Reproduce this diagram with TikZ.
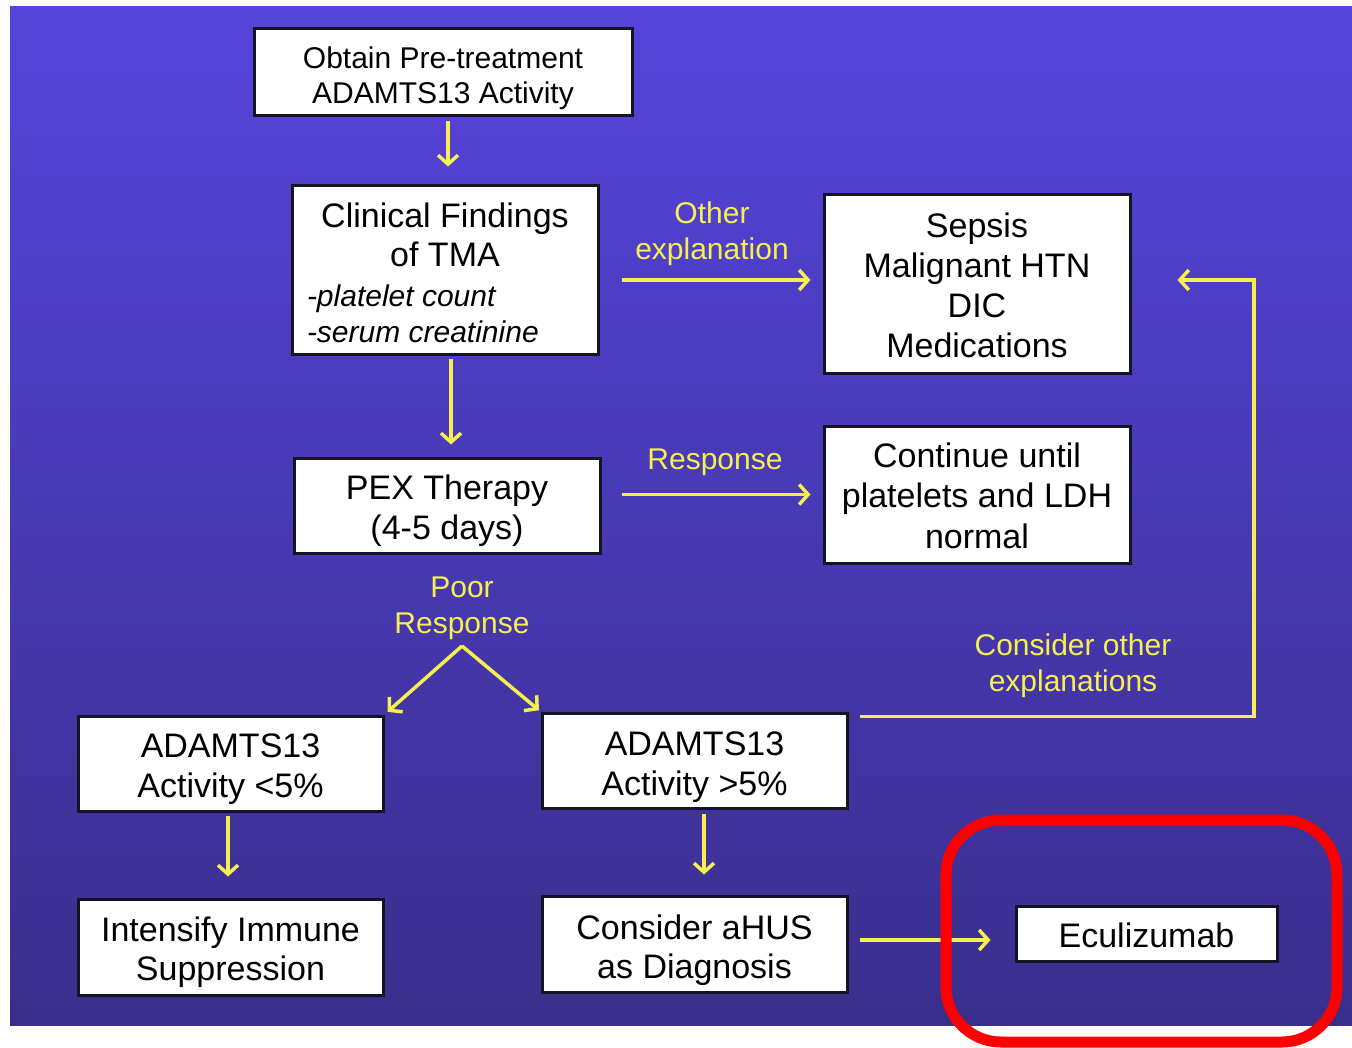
\documentclass[tikz,border=0pt]{standalone}
\usepackage{fontspec}
\setmainfont{Liberation Sans}
\usetikzlibrary{arrows.meta}
\definecolor{bgtop}{RGB}{86,68,220}
\definecolor{bgbot}{RGB}{58,46,140}
\definecolor{ylw}{RGB}{245,240,80}
\definecolor{bordr}{RGB}{20,20,35}
\newcommand{\dn}[2]{\raisebox{-#1pt}[\height][\depth]{\begin{tabular}{@{}c@{}}#2\end{tabular}}}
\begin{document}
\begin{tikzpicture}[x=1pt,y=-1pt,
  box/.style={draw=bordr, line width=3pt, fill=white, inner sep=0pt,
    text=black, font=\fontsize{34}{39.5}\selectfont},
  lbl/.style={text=ylw, align=center, inner sep=0pt, font=\fontsize{30}{36}\selectfont},
  arr/.style={draw=ylw, line width=3.5pt, -{Straight Barb[length=9pt,width=20pt]}}]
\useasboundingbox (0,0) rectangle (1352,1048);
\shade[top color=bgtop, bottom color=bgbot] (10,7) rectangle (1352,1025);

\node[box, minimum width=378pt, minimum height=87pt, font=\fontsize{30}{35}\selectfont]
  (obtain) at (443,72.5) {\dn{7}{Obtain Pre-treatment\\ADAMTS13 Activity}};
\node[box, minimum width=306pt, minimum height=169pt] (clin) at (445,270.5)
  {\dn{6.5}{Clinical Findings\\of TMA\\\makebox[276pt][l]{\fontsize{30}{36}\selectfont\itshape -platelet count}\\[-3pt]\makebox[276pt][l]{\fontsize{30}{36}\selectfont\itshape -serum creatinine}}};
\node[box, minimum width=306pt, minimum height=179pt, font=\fontsize{34}{40}\selectfont] (sepsis) at (977,284.5)
  {\dn{5.5}{Sepsis\\Malignant HTN\\DIC\\Medications}};
\node[box, minimum width=306pt, minimum height=95pt] (pex) at (447,505.5)
  {\dn{6}{PEX Therapy\\(4-5 days)}};
\node[box, minimum width=306pt, minimum height=137pt, font=\fontsize{34}{40.5}\selectfont] (cont) at (977,494.5)
  {\dn{5}{Continue until\\platelets and LDH\\normal}};
\node[box, minimum width=305pt, minimum height=95pt] (lo) at (230.5,763.5)
  {\dn{6}{ADAMTS13\\Activity <5\%}};
\node[box, minimum width=305pt, minimum height=95pt] (hi) at (694.5,760.5)
  {\dn{7}{ADAMTS13\\Activity >5\%}};
\node[box, minimum width=305pt, minimum height=96pt] (intens) at (230.5,947)
  {\dn{6}{Intensify Immune\\Suppression}};
\node[box, minimum width=305pt, minimum height=96pt] (ahus) at (694.5,944)
  {\dn{7}{Consider aHUS\\as Diagnosis}};
\node[box, minimum width=261pt, minimum height=55pt] (ecu) at (1146.5,933.5)
  {\dn{6}{Eculizumab}};

\node[lbl] (lother) at (712,233.5) {Other\\explanation};
\node[lbl] (lresp) at (715,462.5) {Response};
\node[lbl] (lpoor) at (462,608.5) {Poor\\Response};
\node[lbl] (lcons) at (1073,665.5) {Consider other\\explanations};

\coordinate (split) at (462,646);
\coordinate (turn) at (1254,280);

\draw[arr, shorten <=4pt, shorten >=18pt] ([xshift=5pt]obtain.south) -- ([xshift=5pt]obtain.south |- clin.north);
\draw[arr, shorten <=3pt, shorten >=12pt] ([xshift=6pt]clin.south) -- ([xshift=6pt]clin.south |- pex.north);
\draw[arr, shorten <=22pt, shorten >=12pt] (clin.east |- turn) -- ([yshift=4.5pt]sepsis.west);
\draw[arr, shorten <=20pt, shorten >=12pt] (pex.east |- cont.west) -- (cont.west);
\draw[arr, shorten >=4pt] (split) -- (lo.north east);
\draw[arr, shorten >=2pt] (split) -- (hi.north west);
\draw[arr, shorten <=3pt, shorten >=21pt] ([xshift=-2.5pt]lo.south) -- ([xshift=-2.5pt]lo.south |- intens.north);
\draw[arr, shorten <=4pt, shorten >=20pt] ([xshift=9.5pt]hi.south) -- ([xshift=9.5pt]hi.south |- ahus.north);
\draw[arr, shorten <=11pt, shorten >=24pt] (ahus.east |- 0,940) -- ([yshift=-6.5pt]ecu.west);
\draw[arr, shorten <=11pt, shorten >=46pt, line join=miter] ([yshift=-5pt]hi.north east) -| (turn) -- ([yshift=4.5pt]sepsis.east);

\draw[red, line width=11pt, rounded corners=55pt] (946,820) rectangle (1337,1042);
\end{tikzpicture}
\end{document}
